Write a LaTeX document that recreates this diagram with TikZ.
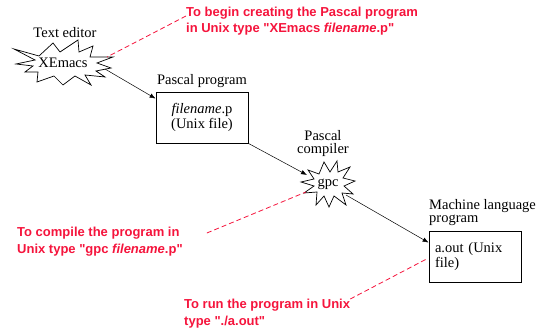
\documentclass[tikz,border=0pt]{standalone}
\usepackage{fontspec}
\setmainfont{Liberation Serif}[Ligatures=TeXOff]
\newfontfamily\redfont{Liberation Sans}[Ligatures=TeXOff]
\usetikzlibrary{arrows.meta}
\definecolor{notered}{RGB}{245,20,60}
\begin{document}
\begin{tikzpicture}[x=1pt,y=-1pt,
  lbl/.style={inner sep=0pt,font=\fontsize{14.5}{13}\selectfont,align=center},
  boxnode/.style={draw,line width=0.8pt,font=\fontsize{14.5}{13}\selectfont,inner sep=0pt},
  burst/.style={draw,line width=0.7pt,line join=miter},
  note/.style={inner sep=0pt,align=left,text=notered,font=\redfont\bfseries\fontsize{13}{16.5}\selectfont},
  link/.style={line width=0.5pt,-{Latex[length=6pt,width=4.5pt]}},
  hint/.style={notered,line width=0.8pt,dash pattern=on 5pt off 3pt}]
\useasboundingbox (0,0) rectangle (551,331);
\node[lbl] (tlabel) at (65,33) {Text editor};
\node[lbl] (xemacs) at (63,63) {XEmacs};
\begin{scope}[shift={(xemacs.center)}]
\draw[burst] (-49,-14) -- (-24,-7) -- (-10,-20) -- (-3,-11) -- (15,-23) -- (16,-11) -- (30,-17) -- (27,-6)
  -- (50,-6) -- (34,0) -- (48,5) -- (33,8) -- (42,14) -- (22,12) -- (28,22) -- (12,13) -- (0,22) -- (-9,13)
  -- (-26,19) -- (-25,9) -- (-38,9) -- (-30,3) -- (-47,1) -- (-28,-3) -- cycle;
\end{scope}
\node[lbl] (plabel) at (202,81) {Pascal program};
\node[boxnode,align=center,minimum width=92pt,minimum height=51pt] (pascal) at (202,117.5) {\textit{filename}.p\\(Unix file)};
\node[lbl] (clabel) at (323,144) {Pascal\\compiler};
\node[lbl] (gpc) at (328,184) {gpc};
\begin{scope}[shift={(gpc.center)}]
\draw[burst] (-20,-14) -- (-9,-10) -- (-4,-22) -- (2,-12) -- (9,-23) -- (10,-12) -- (22,-17) -- (15,-6)
  -- (27,-3) -- (16,2) -- (25,10) -- (14,9) -- (18,21) -- (6,12) -- (1,23) -- (-4,12) -- (-12,21) -- (-11,8)
  -- (-24,9) -- (-14,2) -- (-27,-2) -- (-14,-5) -- cycle;
\end{scope}
\node[lbl,anchor=west,align=left] (mlabel) at (429,212.5) {Machine language\\program};
\node[boxnode,align=left,text width=80pt,inner xsep=6pt,minimum height=51pt] (machine) at (475,256.5) {a.out (Unix\\file)};
\node[note,anchor=west] (r1) at (186,21) {To begin creating the Pascal program\\in Unix type "XEmacs \textit{filename}.p"};
\node[note,anchor=west] (r2) at (17,241.5) {To compile the program in\\Unix type "gpc \textit{filename}.p"};
\node[note,anchor=west] (r3) at (184,313.5) {To run the program in Unix\\type "./a.out"};
\draw[link] ([xshift=42pt,yshift=-6pt]xemacs.center) -- ([yshift=-7pt]pascal.north west);
\draw[link] (pascal.south east) -- ([xshift=-21pt,yshift=9pt]gpc.center);
\draw[link] ([xshift=18pt,yshift=-11pt]gpc.center) -- ([yshift=-12pt]machine.north west);
\draw[hint] ([yshift=5pt]r1.west) -- ([xshift=44pt,yshift=6pt]xemacs.center);
\draw[hint] ([xshift=24pt,yshift=8.5pt]r2.east) -- ([xshift=-22pt,yshift=-8pt]gpc.center);
\draw[hint] (r3.north east) -- ([xshift=-3pt,yshift=-3pt]machine.west);
\end{tikzpicture}
\end{document}
